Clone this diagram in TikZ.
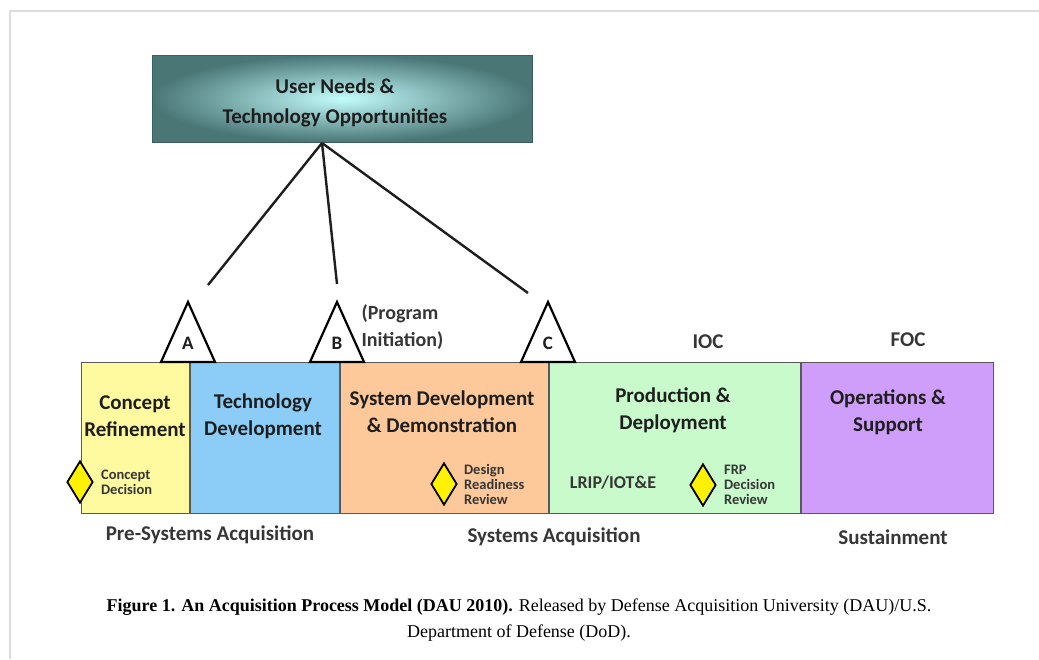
\documentclass[tikz,border=0pt]{standalone}
\usepackage{fontspec}
\setmainfont{Liberation Serif}
\newfontfamily\dausans{Carlito}
\definecolor{PhaseYellow}{HTML}{FFF9A0}
\definecolor{PhaseBlue}{HTML}{8CCDF7}
\definecolor{PhaseOrange}{HTML}{FDC99A}
\definecolor{PhaseGreen}{HTML}{C8FACB}
\definecolor{PhasePurple}{HTML}{CF9EFB}
\definecolor{NeedsDark}{HTML}{4A7676}
\definecolor{NeedsLight}{HTML}{C4FCFC}
\definecolor{FrameGray}{HTML}{DCDCDC}
\definecolor{InkDark}{HTML}{1E1E1E}
\definecolor{InkGray}{HTML}{363636}
\usetikzlibrary{positioning,shapes.geometric}

\tikzset{
  phase/.style={draw=gray!70!black, line width=1pt, minimum height=151, inner sep=0pt},
  phasetext/.style={font=\dausans\bfseries\fontsize{21}{27}\selectfont, align=center, text=InkDark},
  needs/.style={draw=NeedsDark!80!black, line width=1pt, minimum width=380, minimum height=87,
    inner color=NeedsLight, outer color=NeedsDark},
  link/.style={draw=InkDark, line width=2.4pt},
  gate/.style={draw=black, fill=white, line width=2.2pt, line join=miter},
  gatelabel/.style={font=\dausans\bfseries\fontsize{19}{19}\selectfont, text=InkDark, inner sep=0pt},
  decision/.style={diamond, draw=black, fill=yellow, line width=1.8pt, minimum width=26, minimum height=42, inner sep=0pt},
  smallnote/.style={font=\dausans\bfseries\fontsize{14.5}{15}\selectfont, align=left, text=InkGray, inner sep=0pt},
  marktext/.style={font=\dausans\bfseries\fontsize{20}{27}\selectfont, align=left, text=InkGray},
  groupname/.style={font=\dausans\bfseries\fontsize{21}{21}\selectfont, text=InkGray},
  caption/.style={font=\fontsize{18}{18}\selectfont, text=black}
}

\begin{document}
\begin{tikzpicture}[x=1pt, y=-1pt]
  \useasboundingbox (0,0) rectangle (1039,659);
  \draw[FrameGray, line width=1.5pt] (10,659) -- (10,11) -- (1039,11);

  % needs box and links to the milestones
  \node[needs] (needs) at (342,98.5) {};
  \node[phasetext, font=\dausans\bfseries\fontsize{21}{30}\selectfont] (needsLbl) at (335,103)
    {User Needs \&\\Technology Opportunities};
  \coordinate (apex) at (322,143);
  \coordinate (toA) at (208,285);
  \coordinate (toB) at (337,284);
  \coordinate (toC) at (528,293);
  \draw[link] (apex) -- (toA);
  \draw[link] (apex) -- (toB);
  \draw[link] (apex) -- (toC);

  % phases
  \node[phase, fill=PhaseYellow, minimum width=108, anchor=north west] (refine) at (81,362) {};
  \node[phase, fill=PhaseBlue, minimum width=149, right=0pt of refine] (techdev) {};
  \node[phase, fill=PhaseOrange, minimum width=208, right=0pt of techdev] (sdd) {};
  \node[phase, fill=PhaseGreen, minimum width=251, right=0pt of sdd] (prod) {};
  \node[phase, fill=PhasePurple, minimum width=192, right=0pt of prod] (ops) {};

  \node[phasetext] (refineLbl) at (135,416) {Concept\\Refinement};
  \node[phasetext] (techdevLbl) at (263,416) {Technology\\Development};
  \node[phasetext] (sddLbl) at (442,412) {System Development\\\& Demonstration};
  \node[phasetext] (prodLbl) at (673,410) {Production \&\\Deployment};
  \node[phasetext] (opsLbl) at (888,412) {Operations \&\\Support};

  % milestones
  \draw[gate] (161,362) -- (188,302) -- (215,362) -- cycle;
  \draw[gate] (310,362) -- (337,302) -- (364,362) -- cycle;
  \draw[gate] (521,362) -- (548,302) -- (575,362) -- cycle;
  \node[gatelabel] (gateA) at (188,343) {A};
  \node[gatelabel] (gateB) at (337,343) {B};
  \node[gatelabel] (gateC) at (548,343) {C};
  \node[marktext, anchor=west] (initLbl) at (358,327) {(Program\\Initiation)};
  \node[groupname] (iocLbl) at (708,342) {IOC};
  \node[groupname] (focLbl) at (908,340) {FOC};

  % decision points
  \node[decision] (conceptDec) at (80,482) {};
  \node[smallnote, right=7pt of conceptDec] (conceptDecLbl) {Concept\\Decision};
  \node[decision] (drr) at (444,484) {};
  \node[smallnote, right=6pt of drr] (drrLbl) {Design\\Readiness\\Review};
  \node[decision] (frp) at (703,485) {};
  \node[smallnote, right=7pt of frp] (frpLbl) {FRP\\Decision\\Review};
  \node[groupname, font=\dausans\bfseries\fontsize{18}{18}\selectfont] (lripLbl) at (613,483) {LRIP/IOT\&E};

  % groupings
  \node[groupname] (preLbl) at (210,535) {Pre-Systems Acquisition};
  \node[groupname] (acqLbl) at (554,537) {Systems Acquisition};
  \node[groupname] (sustLbl) at (893,537) {Sustainment};

  \node[caption] (cap1) at (519,607)
    {\textbf{Figure 1. An Acquisition Process Model (DAU 2010).} Released by Defense Acquisition University (DAU)/U.S.};
  \node[caption] (cap2) at (519,633) {Department of Defense (DoD).};
\end{tikzpicture}
\end{document}
